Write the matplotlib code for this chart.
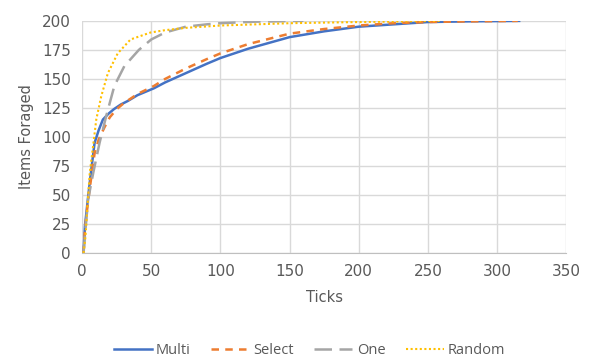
import matplotlib.pyplot as plt

multi_x = [1, 2, 4, 6, 9, 12, 15, 19, 23, 28, 33, 40, 52, 60, 75, 90, 100, 120, 150, 175, 200, 225, 250, 280, 316]
multi_y = [0, 23, 45, 66, 95, 106, 115, 120, 124, 128, 131, 136, 142, 147, 155, 163, 168, 176, 186, 191, 195, 197, 199, 199.6, 200]

select_x = [1, 2, 4, 6, 9, 12, 16, 20, 25, 30, 40, 52, 60, 75, 90, 100, 120, 150, 175, 200, 225, 250, 280, 315]
select_y = [0, 20, 42, 60, 86, 98, 108, 117, 124, 129, 137, 144, 150, 159, 167, 172, 180, 189, 193, 196, 198, 199, 199.6, 200]

one_x = [1, 2, 4.3, 8, 12.6, 17.4, 23.3, 30.5, 41, 50, 60, 75, 90, 100, 125, 160]
one_y = [0, 15, 46, 69, 95, 118, 144, 161, 175, 184, 190, 195, 197, 198, 199.3, 200]

random_x = [1, 2.4, 3.8, 5.5, 7.9, 10.2, 13.8, 18.6, 25.7, 35, 49.5, 60, 75, 100, 125, 150, 200, 260]
random_y = [0, 14, 40, 69, 92, 115, 135, 155, 172, 184, 190, 192, 194, 196, 197, 198, 199, 200]

fig = plt.figure(figsize=(5.91, 3.6), dpi=100)
ax = fig.add_axes([0.139, 0.297, 0.819, 0.645])
plt.rcParams['font.family'] = ['Open Sans', 'DejaVu Sans']

ax.plot(multi_x, multi_y, color='#4472C4', linewidth=1.8, linestyle='-', label='Multi')
ax.plot(select_x, select_y, color='#ED7D31', linewidth=1.8, linestyle=(0, (3, 2.5)), label='Select')
ax.plot(one_x, one_y, color='#A5A5A5', linewidth=1.8, linestyle=(0, (7, 3)), label='One')
ax.plot(random_x, random_y, color='#FFC000', linewidth=1.5, linestyle=(0, (1, 1.2)), label='Random')

ax.set_xlim(0, 350)
ax.set_ylim(0, 200)
ax.set_xticks(range(0, 351, 50))
ax.set_yticks(range(0, 201, 25))
ax.grid(True, color='#D9D9D9', linewidth=1)
ax.set_axisbelow(True)
for s in ['top', 'right', 'left']:
    ax.spines[s].set_visible(False)
ax.spines['bottom'].set_color('#BFBFBF')
ax.tick_params(length=0, labelsize=11, labelcolor='#595959', pad=8)

ax.set_xlabel('Ticks', fontsize=10.5, color='#595959', labelpad=8)
ax.set_ylabel('Items Foraged', fontsize=10.5, color='#595959', labelpad=6)

ax.legend(loc='upper center', bbox_to_anchor=(0.47, -0.33), ncol=4, frameon=False,
          fontsize=10.5, labelcolor='#595959', handlelength=2.6, columnspacing=1.4, handletextpad=0.3)

fig.savefig('out.png', dpi=100)
